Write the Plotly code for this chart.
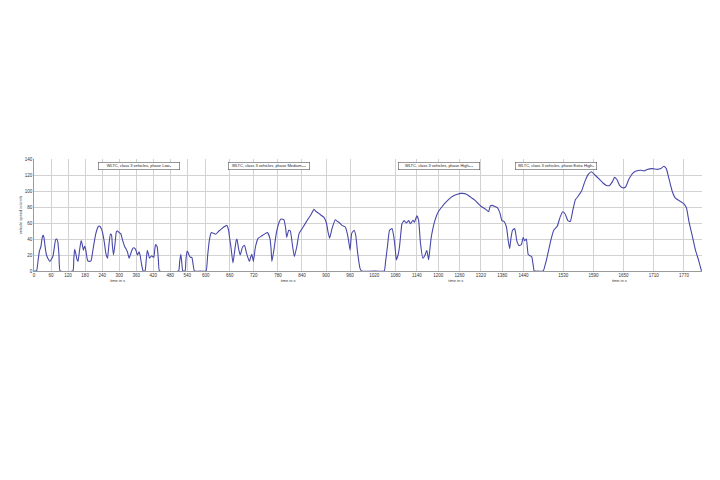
import plotly.graph_objects as go

# ---- data ----
low_t = [0, 9, 14, 19, 24, 29, 32, 35, 40, 44, 50, 56, 62, 67, 71, 76, 80, 84, 88, 92, 137, 140, 143, 147, 151, 155, 160, 166, 170, 174, 178, 181, 185, 189, 195, 201, 207, 213, 218, 224, 228, 232, 237, 242, 248, 253, 259, 263, 269, 273, 276, 280, 285, 290, 294, 300, 305, 308, 314, 320, 325, 329, 335, 340, 346, 351, 356, 360, 364, 370, 374, 379, 384, 391, 395, 399, 403, 407, 414, 418, 422, 425, 428, 431, 434, 438, 442, 509, 513, 517, 520, 524, 532, 535, 539, 543, 547, 552, 556, 560, 565, 589]
low_v = [0, 0, 12, 25, 30, 42, 45, 42, 28, 20, 15, 12, 15, 19, 28, 39, 40, 36, 20, 0, 0, 14, 27, 22, 15, 12, 25, 38, 33, 26, 31, 29, 20, 13, 12, 13, 25, 38, 47, 54, 56, 56, 53, 47, 35, 22, 16, 30, 46, 45, 32, 20, 33, 49, 50, 48, 47, 44, 36, 30, 27, 24, 16, 21, 27, 29, 28, 25, 20, 24, 19, 8, 0, 0, 13, 26, 21, 16, 19, 18, 17, 26, 33, 32, 30, 14, 0, 0, 12, 21, 12, 0, 0, 14, 25, 23, 19, 17, 17, 9, 0, 0]

med_t = [589, 601, 605, 609, 614, 620, 625, 633, 640, 645, 653, 657, 660, 663, 668, 672, 676, 678, 682, 686, 692, 697, 702, 709, 712, 715, 719, 724, 731, 737, 743, 749, 754, 760, 763, 765, 770, 776, 783, 788, 795, 799, 802, 807, 811, 817, 821, 827, 833, 843, 854, 862, 870, 876, 882, 887, 895, 901, 905, 909, 915, 923, 928, 932, 940, 948, 952, 956, 960, 964, 970, 974, 979, 985, 989, 1022]
med_v = [0, 0, 20, 38, 48, 47, 46, 50, 53, 55, 57, 51, 40, 30, 10, 24, 38, 40, 28, 20, 30, 32, 22, 12, 17, 21, 12, 30, 41, 43, 45, 47, 48, 41, 28, 12, 26, 47, 61, 65, 64, 55, 42, 51, 50, 30, 18, 30, 47, 55, 64, 70, 77, 74, 72, 70, 67, 60, 49, 41, 53, 64, 62, 61, 57, 55, 49, 39, 26, 47, 51, 45, 22, 3, 0, 0]

high_t = [1022, 1048, 1052, 1057, 1063, 1070, 1075, 1079, 1082, 1087, 1091, 1095, 1098, 1104, 1110, 1117, 1122, 1129, 1133, 1140, 1145, 1150, 1157, 1163, 1168, 1173, 1176, 1180, 1185, 1190, 1196, 1203, 1210, 1217, 1226, 1236, 1245, 1255, 1262, 1269, 1276, 1283, 1292, 1302, 1311, 1320, 1327, 1334, 1342, 1346, 1352, 1358, 1367, 1374, 1379, 1385, 1392, 1397, 1401, 1405, 1409, 1415, 1418, 1421, 1427, 1434, 1439, 1443, 1448, 1453, 1458, 1463, 1467, 1470, 1477]
high_v = [0, 0, 12, 30, 51, 53, 43, 28, 14, 20, 30, 48, 59, 63, 60, 63, 59, 63.5, 61, 69, 63, 35, 16, 20, 26, 14, 25, 41, 53, 62, 70, 76, 80, 84, 88, 92, 94.5, 96, 97, 97, 96.5, 95, 92, 89, 85, 81, 79, 77, 74, 81, 82, 81, 79, 72, 63, 62, 55, 38, 28, 42, 51, 53, 47, 38, 32, 33, 42, 38, 40, 21, 19, 18, 8, 0, 0]

xhigh_t = [1477, 1490, 1494, 1498, 1505, 1511, 1518, 1524, 1529, 1534, 1539, 1544, 1549, 1554, 1560, 1567, 1573, 1580, 1586, 1593, 1603, 1609, 1616, 1622, 1628, 1632, 1637, 1642, 1648, 1654, 1660, 1668, 1675, 1684, 1691, 1697, 1707, 1717, 1724, 1730, 1735, 1740, 1747, 1753, 1763, 1770, 1775, 1780, 1787, 1793, 1799, 1805]
xhigh_v = [0, 0, 8, 18, 38, 51, 56, 68, 74, 71, 63, 62, 76, 89, 94, 101, 112, 121, 124, 120, 114, 110, 107, 107, 112, 117, 114, 107, 104, 105, 114, 122, 125, 126, 125, 127, 128, 127, 128, 131, 128, 116, 99, 91, 87, 84, 79, 62, 43, 26, 14, 0]

panel_titles = [
    "WLTC, class 3 vehicles, phase Low₃",
    "WLTC, class 3 vehicles, phase Medium₃₋₂",
    "WLTC, class 3 vehicles, phase High₃₋₂",
    "WLTC, class 3 vehicles, phase Extra High₃",
]
ticks_low = [0, 60, 120, 180, 240, 300, 360, 420, 480, 540]
ticks_med = [600, 660, 720, 780, 840, 900, 960, 1020]
ticks_high = [1020, 1080, 1140, 1200, 1260, 1320, 1380, 1440]
ticks_xhigh = [1530, 1590, 1650, 1710, 1770]
y_ticks = [0, 20, 40, 60, 80, 100, 120, 140]

# ---- figure ----
LINE = "#4848aa"
FONT = "Liberation Sans"
fig = go.Figure()
series = [(low_t, low_v, "x"), (med_t, med_v, "x2"), (high_t, high_v, "x3"), (xhigh_t, xhigh_v, "x4")]
for t, v, ax in series:
    fig.add_trace(go.Scatter(x=t, y=v, xaxis=ax, yaxis="y", mode="lines",
                             line=dict(color=LINE, width=1.1, shape="spline", smoothing=0.4),
                             showlegend=False, hoverinfo="skip"))

domains = [[0.0, 0.2504], [0.2504, 0.5104], [0.5104, 0.7525], [0.7525, 1.0]]
ranges = [[0, 589], [589, 1022], [1022, 1477], [1477, 1806]]
tick_sets = [ticks_low, ticks_med, ticks_high, ticks_xhigh]

common_x = dict(showgrid=True, gridcolor="#d2d2d2", gridwidth=0.7, zeroline=False,
                showline=True, linecolor="#9a9a9a", linewidth=0.7, ticks="",
                tickfont=dict(size=4.5, color="#333", family=FONT), anchor="y",
                title=dict(text="time in s", font=dict(size=4, color="#333", family=FONT), standoff=1))
for i in range(4):
    key = "xaxis" if i == 0 else f"xaxis{i+1}"
    fig.update_layout({key: dict(common_x, domain=domains[i], range=ranges[i],
                                 tickmode="array", tickvals=tick_sets[i],
                                 ticktext=[str(v) for v in tick_sets[i]])})

fig.update_layout(
    yaxis=dict(range=[0, 140], tickmode="array", tickvals=y_ticks, showgrid=True,
               gridcolor="#d2d2d2", gridwidth=0.7, zeroline=False, showline=True,
               linecolor="#9a9a9a", linewidth=0.7, ticks="",
               tickfont=dict(size=4.5, color="#333", family=FONT),
               title=dict(text="vehicle speed in km/h", font=dict(size=4, color="#333", family=FONT), standoff=2)),
    width=720, height=480,
    margin=dict(l=23, r=26, t=151, b=217),
    paper_bgcolor="white", plot_bgcolor="white",
)

# title boxes (plot area spans x 30.7..702 px, y 159..271 px on the page)
box_centers = [95, 267, 438, 597]
for cx, txt in zip(box_centers, panel_titles):
    fig.add_annotation(x=(cx - 31) / 671, y=(271 - 165.5) / 112, xref="paper", yref="paper",
                       text=txt, showarrow=False,
                       font=dict(size=4, color="#222", family=FONT),
                       bgcolor="white", bordercolor="#555", borderwidth=0.6,
                       width=80, height=5.5, borderpad=0.5, yanchor="middle")

fig.write_html("out.html")
